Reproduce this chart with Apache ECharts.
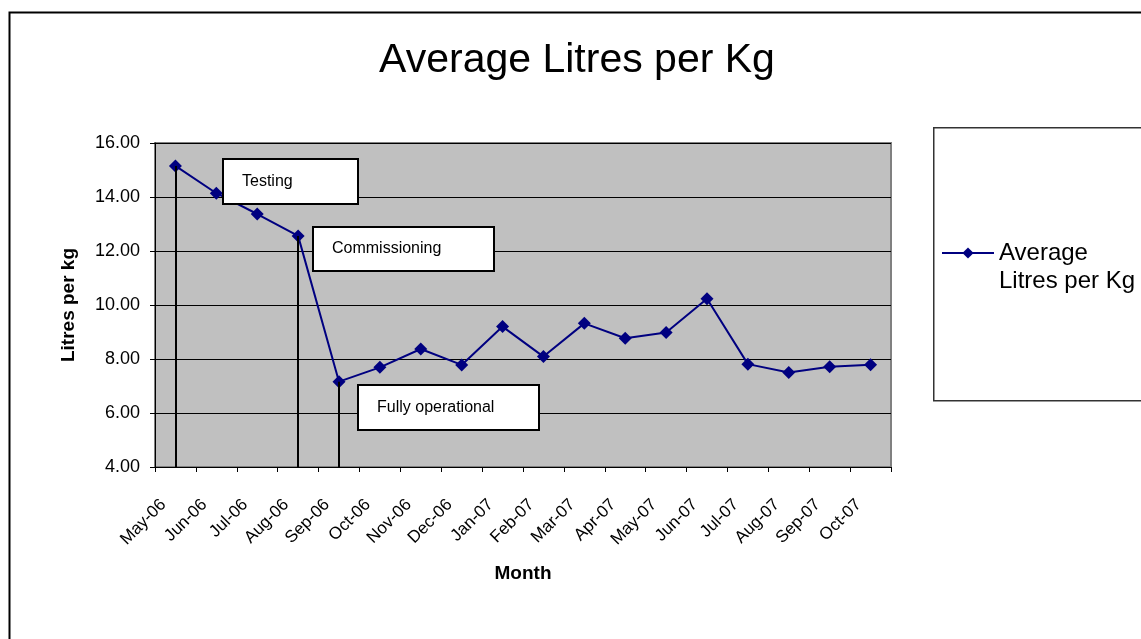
<!DOCTYPE html>
<html>
<head>
<meta charset="UTF-8">
<title>Average Litres per Kg</title>
<script type="text/javascript" src="https://cdn.jsdelivr.net/npm/echarts@6/dist/echarts.min.js"></script>
<style type="text/css">
	html, body { margin: 0; padding: 0; background: #fff; }
	#main { width: 1141px; height: 639px; }
</style>
</head>
<body>
<div id="main"></div>
<script type="text/javascript">
	// data
	var months = ['May-06', 'Jun-06', 'Jul-06', 'Aug-06', 'Sep-06', 'Oct-06', 'Nov-06', 'Dec-06', 'Jan-07',
		'Feb-07', 'Mar-07', 'Apr-07', 'May-07', 'Jun-07', 'Jul-07', 'Aug-07', 'Sep-07', 'Oct-07'];
	var litresPerKg = [15.15, 14.14, 13.37, 12.56, 7.16, 7.69, 8.37, 7.78, 9.20,
		8.09, 9.32, 8.77, 8.98, 10.23, 7.81, 7.50, 7.71, 7.79];
	// months where a phase starts (drop lines)
	var phaseMonths = ['May-06', 'Aug-06', 'Sep-06'];
	var phaseLabels = ['Testing', 'Commissioning', 'Fully operational'];

	var font = 'Liberation Sans, Arial, sans-serif';

	var dropLines = [];
	for (var i = 0; i < phaseMonths.length; i++) {
		var idx = months.indexOf(phaseMonths[i]);
		dropLines.push([
			{ xAxis: phaseMonths[i], yAxis: litresPerKg[idx] },
			{ xAxis: phaseMonths[i], yAxis: 4 }
		]);
	}

	// annotation boxes (text boxes on the chart)
	var boxPos = [[222, 158, 135, 45], [312, 226, 181, 44], [357, 384, 181, 45]];
	var graphics = [
		{ type: 'rect', left: 7, top: 10, shape: { width: 1200, height: 700 },
			style: { fill: 'none', stroke: '#000', lineWidth: 2 }, z: 0 },
		{ type: 'rect', left: 933, top: 127, shape: { width: 300, height: 273 },
			style: { fill: '#fff', stroke: '#333', lineWidth: 1.5 }, z: 0 }
	];
	for (var j = 0; j < phaseLabels.length; j++) {
		var b = boxPos[j];
		graphics.push({
			type: 'group', left: b[0], top: b[1], z: 100,
			children: [
				{ type: 'rect', z: 100, shape: { x: 0, y: 0, width: b[2], height: b[3] },
					style: { fill: '#fff', stroke: '#000', lineWidth: 2 } },
				{ type: 'text', z: 101, x: 19, y: b[3] / 2,
					style: { text: phaseLabels[j], font: '16px ' + font, fill: '#000', textVerticalAlign: 'middle' } }
			]
		});
	}

	var myChart = echarts.init(document.getElementById('main'));
	var option = {
		backgroundColor: '#fff',
		animation: false,
		title: {
			text: 'Average Litres per Kg',
			left: 572,
			textAlign: 'center',
			top: 35,
			textStyle: { fontFamily: font, fontSize: 41, fontWeight: 'normal', color: '#000' }
		},
		legend: {
			left: 936,
			top: 206,
			itemWidth: 52,
			itemHeight: 14,
			data: ['Average Litres per Kg'],
			// empty first line keeps the icon level with "Average"
			formatter: function () { return ' \nAverage\nLitres per Kg'; },
			textStyle: { fontFamily: font, fontSize: 24, color: '#000', lineHeight: 28 }
		},
		grid: {
			left: 155, right: 250, top: 143, bottom: 172,
			show: true,
			backgroundColor: '#c0c0c0',
			borderColor: '#808080',
			borderWidth: 2
		},
		xAxis: {
			type: 'category',
			data: months,
			boundaryGap: true,
			name: 'Month',
			nameLocation: 'middle',
			nameGap: 97,
			nameTextStyle: { fontFamily: font, fontSize: 19, fontWeight: 'bold', color: '#000' },
			axisLine: { lineStyle: { color: '#000', width: 1 } },
			axisTick: { show: true, length: 5, alignWithLabel: false, lineStyle: { color: '#000' } },
			axisLabel: {
				rotate: 45, interval: 0, margin: 23, padding: [0, 17, 0, 0],
				fontFamily: font, fontSize: 17, color: '#000'
			},
			splitLine: { show: false }
		},
		yAxis: {
			type: 'value',
			min: 4,
			max: 16,
			interval: 2,
			name: 'Litres per kg',
			nameLocation: 'middle',
			nameGap: 77,
			nameTextStyle: { fontFamily: font, fontSize: 19, fontWeight: 'bold', color: '#000' },
			axisLine: { show: true, lineStyle: { color: '#000' } },
			axisTick: { show: true, length: 5, lineStyle: { color: '#000' } },
			axisLabel: {
				margin: 15, fontFamily: font, fontSize: 18, color: '#000',
				formatter: function (v) { return v.toFixed(2); }
			},
			splitLine: { show: true, lineStyle: { color: '#000', width: 1 } }
		},
		series: [{
			name: 'Average Litres per Kg',
			type: 'line',
			data: litresPerKg,
			symbol: 'diamond',
			symbolSize: 13,
			itemStyle: { color: '#000080' },
			lineStyle: { color: '#000080', width: 2 },
			markLine: {
				silent: true,
				symbol: ['none', 'none'],
				label: { show: false },
				lineStyle: { color: '#000', width: 2, type: 'solid' },
				data: dropLines
			}
		}],
		graphic: graphics
	};
	myChart.setOption(option);
</script>
</body>
</html>
